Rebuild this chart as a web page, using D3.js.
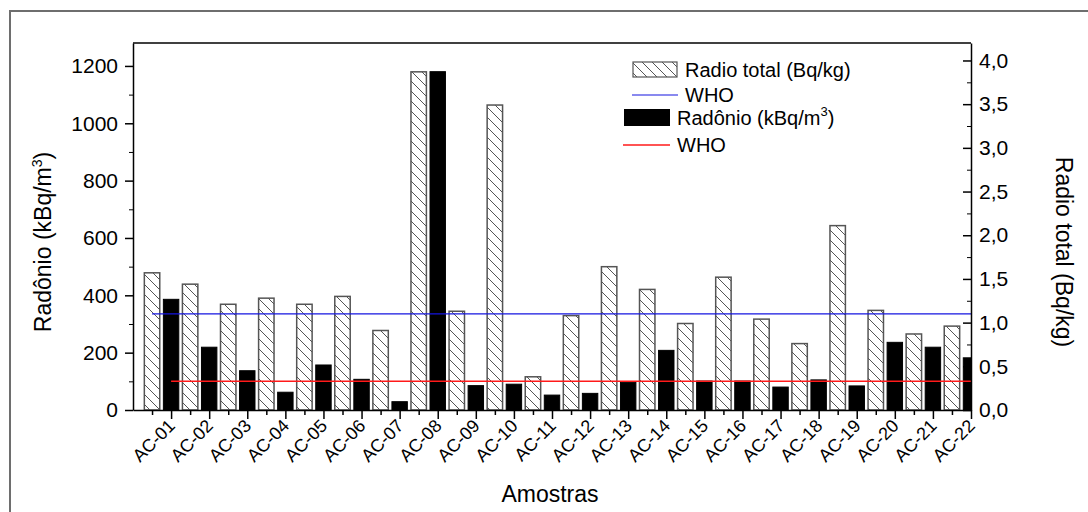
<!DOCTYPE html>
<html>
<head>
<meta charset="utf-8">
<script src="https://cdn.jsdelivr.net/npm/d3@7"></script>
<style>
  body { margin: 0; background: #fff; }
  svg { font-family: "Liberation Sans", Arial, sans-serif; }
</style>
</head>
<body>
<div id="chart"></div>
<script>
const samples = ["AC-01", "AC-02", "AC-03", "AC-04", "AC-05", "AC-06", "AC-07", "AC-08", "AC-09", "AC-10", "AC-11",
  "AC-12", "AC-13", "AC-14", "AC-15", "AC-16", "AC-17", "AC-18", "AC-19", "AC-20", "AC-21", "AC-22"];
// Radio total (Bq/kg), right axis
const radioTotal = [1.57, 1.44, 1.21, 1.28, 1.21, 1.30, 0.91, 3.87, 1.13, 3.49, 0.38,
  1.08, 1.64, 1.38, 0.99, 1.52, 1.04, 0.76, 2.11, 1.14, 0.87, 0.96];
// Radonio (kBq/m3), left axis
const radonio = [386, 219, 137, 62, 157, 107, 29, 1180, 85, 90, 52,
  58, 97, 208, 101, 101, 80, 105, 84, 236, 219, 182];
const leftTicks = [0, 200, 400, 600, 800, 1000, 1200];
const rightTicks = [0, 0.5, 1, 1.5, 2, 2.5, 3, 3.5, 4];
const whoRadio = 1.1;
const whoRadonio = 100;

const width = 1088;
const height = 512;
const margin = { top: 43, right: 117, bottom: 102, left: 133 };

const svg = d3.select('#chart')
  .append('svg')
  .attr('width', width)
  .attr('height', height);

// outer frame (only left/top visible)
svg.append('path')
  .attr('d', `M10,${height} V11 H${width}`)
  .attr('fill', 'none')
  .attr('stroke', '#6e6e6e')
  .attr('stroke-width', 2);

// hatch pattern
const hp = 10;
const defs = svg.append('defs');
const pat = defs.append('pattern')
  .attr('id', 'hatch')
  .attr('patternUnits', 'userSpaceOnUse')
  .attr('width', hp)
  .attr('height', hp);
pat.append('rect').attr('width', hp).attr('height', hp).attr('fill', '#fff');
pat.append('path')
  .attr('d', `M-2,-2 L${hp + 2},${hp + 2} M-2,${hp - 2} L2,${hp + 2} M${hp - 2},-2 L${hp + 2},2`)
  .attr('stroke', '#555')
  .attr('stroke-width', 1);

const x0 = margin.left, x1 = width - margin.right;
const y0 = height - margin.bottom, y1 = margin.top;

defs.append('clipPath').attr('id', 'plot')
  .append('rect').attr('x', x0).attr('y', y1).attr('width', x1 - x0).attr('height', y0 - y1);

const x = d3.scaleLinear()
  .domain([0, samples.length * 2])
  .range([x0, x1]);

const yL = d3.scaleLinear().domain([0, 1280]).range([y0, y1]);
const yR = d3.scaleLinear().domain([0, 4.2]).range([y0, y1]);

const bw = x(0.81) - x(0);

const bars = svg.append('g').attr('clip-path', 'url(#plot)');

bars.selectAll('rect.rt')
  .data(radioTotal)
  .join('rect')
  .attr('class', 'rt')
  .attr('x', (d, i) => x(2 * i + 1) - bw / 2)
  .attr('y', d => yR(d))
  .attr('width', bw)
  .attr('height', d => yR(0) - yR(d))
  .attr('fill', 'url(#hatch)')
  .attr('stroke', '#555')
  .attr('stroke-width', 1.5);

bars.selectAll('rect.rn')
  .data(radonio)
  .join('rect')
  .attr('class', 'rn')
  .attr('x', (d, i) => x(2 * i + 2) - bw / 2)
  .attr('y', d => yL(d))
  .attr('width', bw)
  .attr('height', d => yL(0) - yL(d))
  .attr('fill', '#000')
  .attr('stroke', '#000')
  .attr('stroke-width', 1);

// WHO lines
svg.append('line')
  .attr('x1', x(1)).attr('x2', x1)
  .attr('y1', yR(whoRadio)).attr('y2', yR(whoRadio))
  .attr('stroke', '#1515e0').attr('stroke-width', 1.2);
svg.append('line')
  .attr('x1', x(2)).attr('x2', x1)
  .attr('y1', yL(whoRadonio)).attr('y2', yL(whoRadonio))
  .attr('stroke', '#ff1a1a').attr('stroke-width', 1.5);

// frame top
svg.append('line').attr('x1', x0).attr('x2', x1).attr('y1', y1).attr('y2', y1)
  .attr('stroke', '#000').attr('stroke-width', 1.5);

const tickFont = '21px';

// left axis
svg.append('g')
  .attr('transform', `translate(${x0},0)`)
  .call(d3.axisLeft(yL).tickValues(d3.range(100, 1280, 200)).tickSize(4).tickFormat(''))
  .call(g => g.select('.domain').remove());
svg.append('g')
  .attr('transform', `translate(${x0},0)`)
  .call(d3.axisLeft(yL).tickValues(leftTicks).tickSizeInner(8).tickSizeOuter(0).tickPadding(7).tickFormat(d3.format('d')))
  .call(g => g.selectAll('text').attr('font-size', tickFont).attr('fill', '#000'))
  .call(g => g.selectAll('line, path').attr('stroke-width', 1.5));

// right axis (ticks inward)
const fmt = d => d3.format('.1f')(d).replace('.', ',');
svg.append('g')
  .attr('transform', `translate(${x1},0)`)
  .call(d3.axisRight(yR).tickValues(d3.range(0.25, 4.2, 0.5)).tickSize(-4).tickFormat(''))
  .call(g => g.select('.domain').remove());
svg.append('g')
  .attr('transform', `translate(${x1},0)`)
  .call(d3.axisRight(yR).tickValues(rightTicks).tickSizeInner(-8).tickSizeOuter(0).tickPadding(8).tickFormat(fmt))
  .call(g => g.selectAll('text').attr('font-size', tickFont).attr('fill', '#000'))
  .call(g => g.selectAll('line, path').attr('stroke-width', 1.5));

// bottom axis
svg.append('g')
  .attr('transform', `translate(0,${y0})`)
  .call(d3.axisBottom(x).tickValues(d3.range(1, 44, 2)).tickSize(5).tickFormat(''))
  .call(g => g.select('.domain').remove())
  .call(g => g.selectAll('line').attr('stroke-width', 1.5));
svg.append('g')
  .attr('transform', `translate(0,${y0})`)
  .call(d3.axisBottom(x).tickValues(d3.range(2, 45, 2)).tickSizeInner(9).tickSizeOuter(0).tickFormat(''))
  .call(g => g.selectAll('line, path').attr('stroke-width', 1.5));

svg.append('g')
  .selectAll('text')
  .data(samples)
  .join('text')
  .attr('transform', (d, i) => `translate(${x(2 * i + 2) + 5},${y0 + 17}) rotate(-45)`)
  .attr('text-anchor', 'end')
  .attr('font-size', '18px')
  .text(d => d);

// axis titles
svg.append('text')
  .attr('x', (x0 + x1) / 2 - 2)
  .attr('y', 502)
  .attr('text-anchor', 'middle')
  .attr('font-size', '23px')
  .text('Amostras');

const lt = svg.append('text')
  .attr('transform', `translate(51,242) rotate(-90)`)
  .attr('text-anchor', 'middle')
  .attr('font-size', '23px');
lt.append('tspan').text('Radônio (kBq/m');
lt.append('tspan').attr('font-size', '14px').attr('dy', '-9').text('3');
lt.append('tspan').attr('dy', '9').text(')');

svg.append('text')
  .attr('transform', `translate(1056,252) rotate(90)`)
  .attr('text-anchor', 'middle')
  .attr('font-size', '23px')
  .text('Radio total (Bq/kg)');

// legend
const lg = svg.append('g').attr('font-size', '20px');
lg.append('rect').attr('x', 633).attr('y', 62).attr('width', 44).attr('height', 15)
  .attr('fill', 'url(#hatch)').attr('stroke', '#555').attr('stroke-width', 1.2);
lg.append('text').attr('x', 685).attr('y', 77).text('Radio total (Bq/kg)');
lg.append('line').attr('x1', 632).attr('x2', 678).attr('y1', 95).attr('y2', 95)
  .attr('stroke', '#1515e0').attr('stroke-width', 1.2);
lg.append('text').attr('x', 685).attr('y', 102).text('WHO');
lg.append('rect').attr('x', 624).attr('y', 109).attr('width', 46).attr('height', 17).attr('fill', '#000');
const lr = lg.append('text').attr('x', 677).attr('y', 125);
lr.append('tspan').text('Radônio (kBq/m');
lr.append('tspan').attr('font-size', '13px').attr('dy', '-9').text('3');
lr.append('tspan').attr('dy', '9').text(')');
lg.append('line').attr('x1', 623).attr('x2', 670).attr('y1', 145).attr('y2', 145)
  .attr('stroke', '#ff1a1a').attr('stroke-width', 1.5);
lg.append('text').attr('x', 677).attr('y', 152).text('WHO');
</script>
</body>
</html>
